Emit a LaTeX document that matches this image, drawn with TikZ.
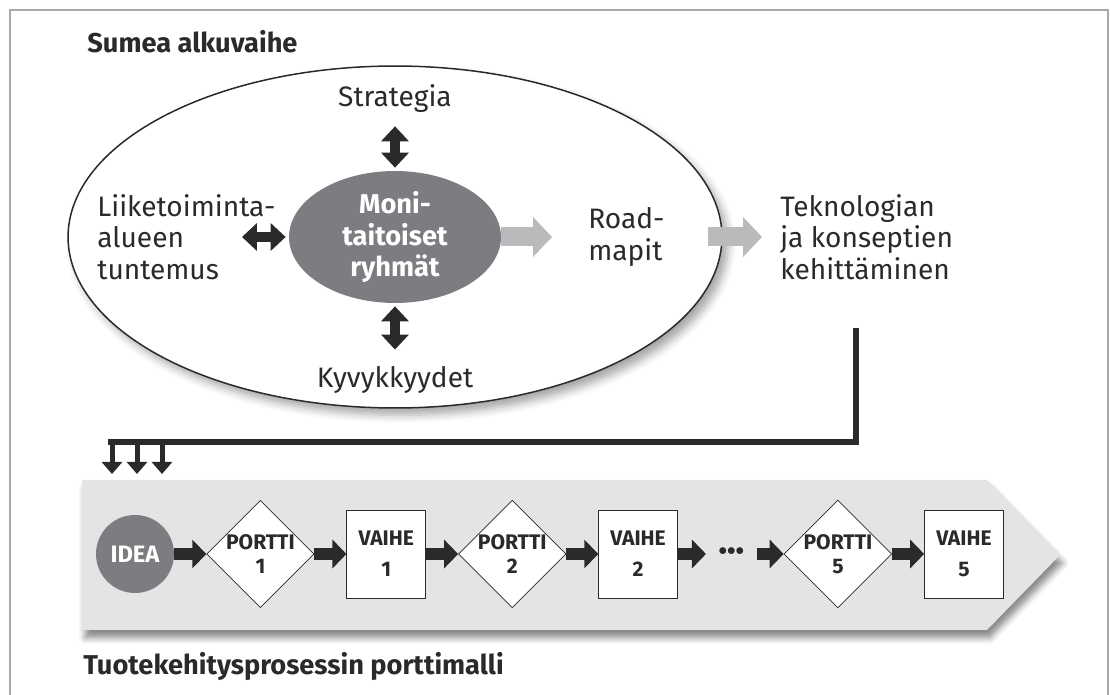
\documentclass[tikz,border=0pt]{standalone}
\usepackage{fontspec}
\setmainfont{Fira Sans}
\usepackage{xcolor}
\usepackage{tikz}
\usetikzlibrary{arrows.meta,positioning,shapes.geometric,shadows.blur}
\definecolor{ink}{HTML}{2B2A29}
\definecolor{slate}{HTML}{7C7D80}
\definecolor{mist}{HTML}{B9BABC}
\definecolor{bandgray}{HTML}{E3E4E3}
\definecolor{rim}{HTML}{A8A8A8}

\begin{document}
\begin{tikzpicture}[x=0.02cm,y=-0.02cm,
  node distance=6.4mm,
  lbl/.style={inner sep=0pt,align=left,text=ink,font=\fontsize{16}{18}\selectfont},
  heading/.style={inner sep=0pt,anchor=base west,text=ink,font=\fontsize{15.5}{17}\selectfont\bfseries},
  crew/.style={ellipse,fill=slate,inner sep=0pt,minimum width=4.24cm,minimum height=2.64cm,
               align=center,text=white,font=\fontsize{15.5}{18}\selectfont\bfseries},
  gate/.style={diamond,draw=ink,fill=white,inner sep=0pt,minimum width=2.08cm,minimum height=2.12cm,
               align=center,text=ink,font=\fontsize{12}{13.5}\selectfont\bfseries},
  stage/.style={rectangle,draw=ink,fill=white,inner sep=0pt,minimum width=1.58cm,minimum height=1.76cm,
               align=center,text=ink,font=\fontsize{12}{17.5}\selectfont\bfseries},
  dbl/.style={{Triangle[width=5.4mm,length=3mm]}-{Triangle[width=5.4mm,length=3mm]},line width=2mm,draw=ink},
  push/.style={-{Triangle[width=7.8mm,length=3.8mm]},line width=3.8mm,draw=mist},
  flow/.style={-{Triangle[width=5.6mm,length=2.8mm]},line width=2.4mm,draw=ink},
  feed/.style={line width=1.2mm,draw=ink},
  dropin/.style={-{Triangle[width=4mm,length=2.4mm]},line width=1mm,draw=ink}
]
\useasboundingbox (0,0) rectangle (1110,695);
\draw[rim,line width=0.4mm] (10,720) |- (1108,10) -- (1108,720);
\node[heading] (fuzzy) at (87,53) {Sumea alkuvaihe};
\node[ellipse,draw=ink,fill=white,line width=0.3mm,minimum width=13.08cm,minimum height=6.84cm,
      blur shadow={shadow xshift=1.2mm,shadow yshift=-1.4mm,shadow blur radius=1.6mm,shadow opacity=35}] (front) at (395,237) {};
\node[crew] (team) at (395,237) {Moni-\\taitoiset\\ryhmät};
\node[lbl,anchor=base] (strat) at (395,107) {Strategia};
\node[lbl,anchor=base] (kyv) at (395,388) {Kyvykkyydet};
\node[lbl,anchor=west] (liike) at (97,237) {Liiketoiminta-\\alueen\\tuntemus};
\node[lbl,anchor=west] (road) at (588,237) {Road-\\mapit};
\node[lbl,anchor=west] (tek) at (780,237) {Teknologian\\ja konseptien\\kehittäminen};
\coordinate (liikeend) at (242,237);
\draw[dbl,shorten <=2.6mm,shorten >=0.6mm] (strat) -- (team);
\draw[dbl,shorten <=0.6mm,shorten >=3.4mm] (team) -- (kyv);
\draw[dbl,shorten >=0.6mm] (liikeend) -- (team);
\draw[push,shorten >=7.2mm] (team) -- (road);
\draw[push,shorten <=0.86cm,shorten >=3.6mm] (road) -- (tek);

\fill[bandgray,blur shadow={shadow xshift=0.6mm,shadow yshift=-1.6mm,shadow blur radius=1.2mm,shadow opacity=45}]
  (82,480) -- (987,480) -- (1060,555) -- (987,630) -- (82,630) -- cycle;
\node[circle,fill=slate,minimum size=1.56cm,inner sep=0pt,text=white,
      font=\fontsize{13.5}{15}\selectfont\bfseries] (idea) at (135,554) {IDEA};
\node[gate,right=of idea] (g1) {PORTTI\\1};
\node[stage,right=of g1] (s1) {VAIHE\\1};
\node[gate,right=of s1] (g2) {PORTTI\\2};
\node[stage,right=of g2] (s2) {VAIHE\\2};
\node[right=5.6mm of s2,minimum width=1cm,inner sep=0pt,text=ink,
      font=\fontsize{14}{17}\selectfont\bfseries] (more) {•••};
\node[gate,right=5.4mm of more] (g5) {PORTTI\\5};
\node[stage,right=of g5] (s5) {VAIHE\\5};
\foreach \a/\b in {idea/g1,g1/s1,s1/g2,g2/s2,s2/more,more/g5,g5/s5}
  \draw[flow] (\a) -- (\b);

\coordinate (feedtop) at (856,328);
\coordinate (split) at (108,442);
\draw[feed] (feedtop) |- (split);
\foreach \i/\x in {1/112,2/137,3/162}{
  \coordinate (out\i) at (\x,442);
  \coordinate (in\i) at (\x,474);
  \draw[dropin] (out\i) -- (in\i);
}
\node[heading] (porttimalli) at (83,675) {Tuotekehitysprosessin porttimalli};
\end{tikzpicture}
\end{document}
